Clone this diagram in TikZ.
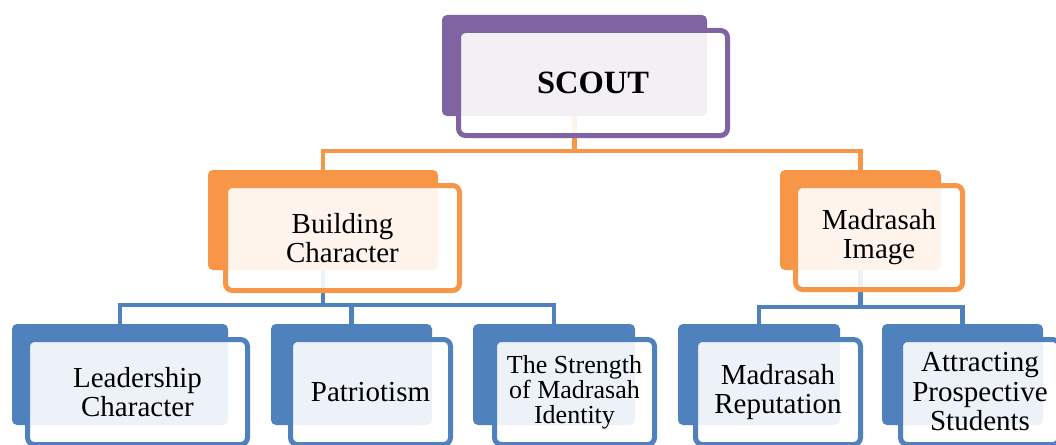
\documentclass[tikz,border=0pt]{standalone}
\usepackage{fontspec}
\setmainfont{Liberation Serif}
\definecolor{purp}{HTML}{8064A2}
\definecolor{orng}{HTML}{F79646}
\definecolor{blu}{HTML}{4F81BD}
\tikzset{
  backbox/.style={fill=#1, rounded corners=5pt, inner sep=0pt, minimum height=100pt},
  frontbox/.style={draw=#1, line width=5pt, fill=white, fill opacity=0.9, text opacity=1,
    rounded corners=7pt, align=center, inner sep=0pt, minimum height=105pt,
    font=\fontsize{29}{29}\selectfont},
  conn/.style={draw=#1, line width=4.5pt},
}
\begin{document}
\begin{tikzpicture}[x=1pt,y=-1pt]
\useasboundingbox (0,0) rectangle (1056,444);
% back boxes
\node[backbox=purp, minimum width=265pt, minimum height=101pt] (scoutB) at (574.5,65.5) {};
\node[backbox=orng, minimum width=230pt] (buildB) at (323,220) {};
\node[backbox=orng, minimum width=161pt] (imageB) at (860.5,220) {};
\node[backbox=blu, minimum width=216pt, minimum height=101pt] (leadB) at (120,374.5) {};
\node[backbox=blu, minimum width=161pt, minimum height=101pt] (patB) at (351.5,374.5) {};
\node[backbox=blu, minimum width=162pt, minimum height=101pt] (strB) at (554,374.5) {};
\node[backbox=blu, minimum width=162pt, minimum height=101pt] (repB) at (759,374.5) {};
\node[backbox=blu, minimum width=161pt, minimum height=101pt] (attB) at (962.5,374.5) {};
% connectors
\coordinate (j1) at (574.5,151);
\draw[conn=orng] (scoutB.south) -- (j1);
\draw[conn=orng] (buildB.north) |- (j1) -| (imageB.north);
\coordinate (j2) at (323,305);
\draw[conn=blu] (buildB.south) -- (j2);
\draw[conn=blu] (leadB.north) |- (j2) -| (strB.north);
\draw[conn=blu] (patB.north) -- (patB.north |- j2);
\coordinate (j3) at (860.5,307);
\draw[conn=blu] (imageB.south) -- (j3);
\draw[conn=blu] (repB.north) |- (j3) -| (attB.north);
% front boxes
\node[frontbox=purp, minimum width=269pt, font=\fontsize{32.5}{36}\selectfont\bfseries] (scout) at (593,83) {SCOUT};
\node[frontbox=orng, minimum width=234pt] (build) at (342.5,238) {Building\\Character};
\node[frontbox=orng, minimum width=167pt, minimum height=104pt] (image) at (879,237.5) {Madrasah\\Image};
\node[frontbox=blu, minimum width=220pt] (lead) at (137.5,392) {Leadership\\Character};
\node[frontbox=blu, minimum width=160pt] (pat) at (370.5,392) {Patriotism};
\node[frontbox=blu, minimum width=160pt, font=\fontsize{26}{25}\selectfont] (str) at (574.5,392) {The Strength\\of Madrasah\\Identity};
\node[frontbox=blu, minimum width=165pt] (rep) at (778,392) {Madrasah\\Reputation};
\node[frontbox=blu, minimum width=159pt, font=\fontsize{29}{29.5}\selectfont] (att) at (980,392) {Attracting\\Prospective\\Students};
\end{tikzpicture}
\end{document}
